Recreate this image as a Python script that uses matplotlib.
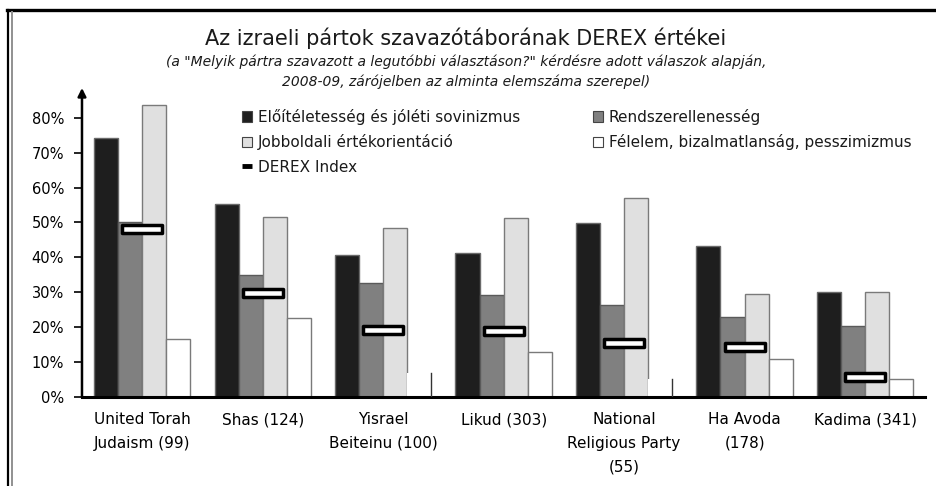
#!/usr/bin/env python3
"""DEREX values of Israeli party voter bases, grouped bars with index markers."""

import numpy as np
from matplotlib import pyplot as plt
from matplotlib.lines import Line2D
from matplotlib.patches import Patch
from matplotlib.path import Path


PARTIES = [
    "United Torah\nJudaism (99)",
    "Shas (124)",
    "Yisrael\nBeiteinu (100)",
    "Likud (303)",
    "National\nReligious Party\n(55)",
    "Ha Avoda\n(178)",
    "Kadima (341)",
]
SERIES = [
    "Előítéletesség és jóléti sovinizmus",
    "Rendszerellenesség",
    "Jobboldali értékorientáció",
    "Félelem, bizalmatlanság, pesszimizmus",
]
PREJUDICE = [74.3, 55.2, 40.8, 41.2, 49.7, 43.2, 30.1]
ANTI_SYSTEM = [50.2, 34.9, 32.8, 29.1, 26.4, 23.0, 20.4]
RIGHT_WING = [83.5, 51.5, 48.3, 51.3, 56.9, 29.4, 30.1]
FEAR = [16.5, 22.5, 6.9, 13.0, 5.2, 10.9, 5.3]
DEREX = [48.2, 29.8, 19.3, 18.8, 15.6, 14.2, 5.7]
YTICKS = [0, 10, 20, 30, 40, 50, 60, 70, 80]

FACE = ["#1e1e1e", "#808080", "#e0e0e0", "#ffffff"]
EDGE = ["#6a6a6a", "#5a5a5a", "#7a7a7a", "#7a7a7a"]
# the chart only shows the right edge of these two fear bars
EDGE_ONLY_RIGHT = {2, 4}

FONT = "DejaVu Sans"


def main():
    plt.rcParams.update({"font.family": FONT, "text.color": "#1a1a1a"})
    fig = plt.figure(figsize=(9.37, 4.86), dpi=100)
    ax = fig.add_axes([0.0875, 0.183, 0.9, 0.636])

    x = np.arange(len(PARTIES))
    width = 0.2
    values = [PREJUDICE, ANTI_SYSTEM, RIGHT_WING, FEAR]
    handles = []
    for i, vals in enumerate(values):
        offset = (i - 1.5) * width
        bars = ax.bar(x + offset, vals, width, color=FACE[i], edgecolor=EDGE[i],
                      linewidth=1.0, zorder=2)
        if i == 3:
            for j in EDGE_ONLY_RIGHT:
                rect = bars[j]
                rect.set_edgecolor("none")
                right = rect.get_x() + rect.get_width()
                ax.plot([right, right], [0, rect.get_height()], color="#333333",
                        linewidth=1.0, zorder=3)
        handles.append(Patch(facecolor=FACE[i], edgecolor="#444444", linewidth=0.8))

    box = Path([(-1, -0.18), (1, -0.18), (1, 0.18), (-1, 0.18), (-1, -0.18)],
               [Path.MOVETO, Path.LINETO, Path.LINETO, Path.LINETO, Path.CLOSEPOLY])
    ax.plot(x, DEREX, linestyle="none", marker=box, markersize=29,
            markerfacecolor="white", markeredgecolor="black", markeredgewidth=2.5,
            zorder=4)
    derex_handle = Line2D([0], [0], color="black", linewidth=3.5, solid_capstyle="butt")

    ax.set_xlim(-0.5, len(PARTIES) - 0.5)
    ax.set_ylim(0, 88.5)
    ax.set_yticks(YTICKS)
    ax.set_yticklabels([f"{t}%" for t in YTICKS], fontsize=10.5)
    ax.set_xticks(x)
    ax.set_xticklabels(PARTIES, fontsize=11, linespacing=1.7)
    ax.tick_params(axis="x", length=0, pad=11)
    ax.tick_params(axis="y", length=6, width=1.2, direction="out", pad=7)
    for side in ("top", "right", "left"):
        ax.spines[side].set_visible(False)
    ax.spines["bottom"].set_linewidth(2.2)
    ax.annotate("", xy=(0, 1.0), xytext=(0, 0), xycoords="axes fraction",
                arrowprops=dict(arrowstyle="-|>", color="black", lw=1.8,
                                mutation_scale=12, shrinkA=0, shrinkB=0))

    order = [handles[0], handles[2], derex_handle, handles[1], handles[3]]
    labels = [SERIES[0], SERIES[2], "DEREX Index", SERIES[1], SERIES[3]]
    fig.legend(order, labels, loc="upper left", bbox_to_anchor=(0.258, 0.776),
               ncol=2, frameon=False, fontsize=11, handlelength=0.7,
               handleheight=0.7, handletextpad=0.35, columnspacing=4.75,
               labelspacing=0.62, borderpad=0, borderaxespad=0)

    fig.text(0.497, 0.922, "Az izraeli pártok szavazótáborának DEREX értékei",
             ha="center", va="center", fontsize=15)
    fig.text(0.497, 0.872,
             "(a \"Melyik pártra szavazott a legutóbbi választáson?\" kérdésre "
             "adott válaszok alapján,",
             ha="center", va="center", fontsize=10, style="italic")
    fig.text(0.497, 0.831, "2008-09, zárójelben az alminta elemszáma szerepel)",
             ha="center", va="center", fontsize=10, style="italic")

    # page frame: heavy top rule and a double rule on the left
    fig.add_artist(Line2D([0.007, 1.0], [0.979, 0.979], color="black", linewidth=2.4,
                          transform=fig.transFigure))
    fig.add_artist(Line2D([0.0085, 0.0085], [0.0, 0.979], color="black", linewidth=1.6,
                          transform=fig.transFigure))
    fig.add_artist(Line2D([0.0125, 0.0125], [0.0, 0.975], color="#909090",
                          linewidth=1.4, transform=fig.transFigure))

    fig.savefig("out.png", dpi=100, facecolor="white")


if __name__ == "__main__":
    main()
